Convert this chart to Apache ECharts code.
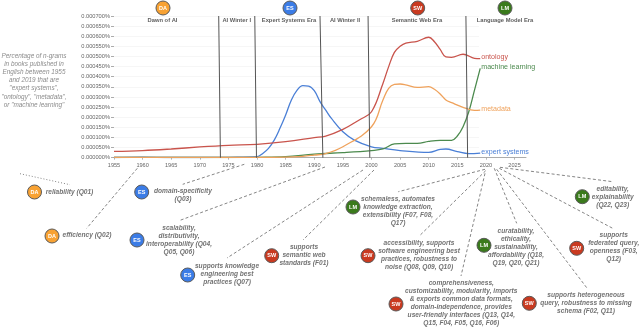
<!DOCTYPE html>
<html><head><meta charset="utf-8">
<script src="https://cdn.jsdelivr.net/npm/echarts@6/dist/echarts.min.js"></script>
<style>html,body{margin:0;padding:0;background:#fff}#c{width:640px;height:327px}</style>
</head><body><div id="c"></div>
<script>
// values in units of 0.000001 %
const ontologyYears=[1955,1960,1965,1970,1975,1980,1985,1990,1992,1995,1998,2000,2002,2003,2004,2005,2006,2008,2010,2011,2012,2013,2014,2016,2018,2019];
const ontologyVals=[31,35,43,53,61,66,79,99,107,140,189,227,367,450,520,550,566,575,595,573,535,498,496,511,491,489];
const mlYears=[1955,1960,1965,1970,1975,1980,1985,1990,1995,2000,2002,2004,2006,2008,2010,2012,2014,2015,2016,2017,2018,2019];
const mlVals=[1,2,1,1,1,2,5,18,25,35,43,68,71,71,81,86,86,107,153,227,334,441];
const metadataYears=[1955,1960,1965,1970,1975,1980,1985,1988,1990,1992,1995,2000,2002,2003,2004,2005,2006,2008,2010,2011,2012,2013,2014,2016,2018,2019];
const metadataVals=[2,2,2,2,2,2,3,7,13,20,54,153,285,343,362,364,360,347,351,338,315,285,272,249,234,235];
const expertYears=[1955,1960,1965,1970,1975,1980,1981,1982,1983,1984,1985,1986,1987,1988,1989,1990,1991,1992,1993,1995,1997,2000,2002,2005,2010,2012,2013,2015,2017,2019];
const expertVals=[1,3,1,1,2,5,21,46,87,145,211,285,334,356,354,331,277,235,194,128,87,54,46,35,26,41,43,30,20,23];
const eraBoundaries=[[1973.3,1973.6],[1979.6,1979.9],[1991.0,1991.5],[1999.4,1999.7],[2016.5,2016.8]];
const eras=['Dawn of AI','AI Winter I','Expert Systems Era','AI Winter II','Semantic Web Era','Language Model Era'];
const eraCx=[162.5,236.7,289,345,417,505];
const noteLines=['Percentage of n-grams','in books published in','English between 1955','and 2019 that are','"expert systems",','"ontology", "metadata",','or "machine learning"'];
const badgeColor={DA:'#f8a233',ES:'#3b7ce6',SW:'#c93a20',LM:'#3a7a1c'};
const topBadges=[['DA',163,8],['ES',290,8],['SW',417.7,8],['LM',505,8]];
const notes=[
 ['DA',34.5,192,69.5,191.7,'reliability (Q01)'],
 ['DA',52,236,87,235.2,'efficiency (Q02)'],
 ['ES',141.7,192,183,191,'domain-specificity\n(Q03)'],
 ['ES',137,240,179,227.7,'scalability,\ndistributivity,\ninteroperability (Q04,\nQ05, Q06)'],
 ['ES',187.7,275,227,265.7,'supports knowledge\nengineering best\npractices (Q07)'],
 ['SW',271.7,255.7,304,247,'supports\nsemantic web\nstandards (F01)'],
 ['LM',353,207,398,198.7,'schemaless, automates\nknowledge extraction,\nextensibility (F07, F08,\nQ17)'],
 ['SW',368,255.7,419,243.3,'accessibility, supports\nsoftware engineering best\npractices, robustness to\nnoise (Q08, Q09, Q10)'],
 ['LM',484,245.3,516,230.7,'curatability,\nethicality,\nsustainability,\naffordability (Q18,\nQ19, Q20, Q21)'],
 ['LM',582.3,196.7,612.7,188.7,'editability,\nexplainability\n(Q22, Q23)'],
 ['SW',576.7,248.3,613.7,235.3,'supports\nfederated query,\nopenness (F03,\nQ12)'],
 ['SW',529.3,303.3,586,295,'supports heterogeneous\nquery, robustness to missing\nschema (F02, Q11)'],
 ['SW',396,304,461.3,283,'comprehensiveness,\ncustomizability, modularity, imports\n& exports common data formats,\ndomain-independence, provides\nuser-friendly interfaces (Q13, Q14,\nQ15, F04, F05, Q16, F06)']
];
const leaders=[
 [20,173.7,70,184.7,1],
 [137.3,168.3,86.7,228.3],
 [244.3,164.3,182.7,184.3],
 [325,167,179,220.7],
 [363,170,227,258],
 [374,170,303,240],
 [485,169.3,398.3,191.7],
 [485.7,170.7,419.3,236],
 [485,173.3,461,276],
 [494.3,168.3,516.7,223.3],
 [496.7,169.3,586.7,287.7],
 [499.3,168.3,614,229],
 [500,167.3,612.7,181.7]
];
const zip=(a,b)=>a.map((x,i)=>[x,b[i]]);
const FF='"Liberation Sans",Arial,sans-serif';
const G=[];
const txt=(x,y,t,font,fill,lh,z)=>G.push({type:'text',z:z||5,x,y,style:{text:t,font,fill,align:'center',verticalAlign:'middle',lineHeight:lh||8}});
G.push({type:'rect',z:1,shape:{x:479,y:10,width:60,height:146.8},style:{fill:'#fff'}});
leaders.forEach(l=>G.push({type:'line',z:4,shape:{x1:l[0],y1:l[1],x2:l[2],y2:l[3]},style:{stroke:'#666',lineWidth:0.8,lineDash:l[4]?[1,2]:[3,2.2]}}));
const badge=(k,x,y)=>{G.push({type:'circle',z:5,shape:{cx:x,cy:y,r:7},style:{fill:badgeColor[k],stroke:'#5a5a5a',lineWidth:1}});
 txt(x,y,k,'bold 5.5px '+FF,'#fff',8,6);};
topBadges.forEach(b=>badge(b[0],b[1],b[2]));
eras.forEach((e,i)=>txt(eraCx[i],20.7,e,'bold 5.8px '+FF,'#606060'));
noteLines.forEach((t,i)=>txt(34,56+i*8.15,t,'italic 6.4px '+FF,'#8c8c8c'));
notes.forEach(n=>{badge(n[0],n[1],n[2]);
 n[5].split('\n').forEach((t,i)=>txt(n[3],n[4]+i*8.05,t,'italic bold 6.6px '+FF,'#737373'));});
const line=(name,d,color,z)=>({name,type:'line',data:d,smooth:0.4,showSymbol:false,symbol:'none',z:z,silent:true,
 lineStyle:{color,width:1.3},itemStyle:{color},
 endLabel:{show:true,formatter:'{a}',color,fontSize:7.1,fontFamily:FF,distance:1,offset:[0,-1.5]},
 labelLayout:{hideOverlap:false}});
const chart=echarts.init(document.getElementById('c'),null,{renderer:'canvas'});
const series=[
 line('expert systems',zip(expertYears,expertVals),'#4a7fd6',3),
 line('metadata',zip(metadataYears,metadataVals),'#efa25c',4),
 line('machine learning',zip(mlYears,mlVals),'#4c8a4e',3),
 line('ontology',zip(ontologyYears,ontologyVals),'#c9544c',4)];
series.push({type:'line',data:[],silent:true,z:6,markLine:{silent:true,symbol:'none',label:{show:false},animation:false,
 lineStyle:{color:'#555',width:1,type:'solid'},
 data:eraBoundaries.map(b=>[{coord:[b[0],700]},{coord:[b[1],0]}])}});
chart.setOption({animation:false,backgroundColor:'#fff',
 grid:{left:114,top:16,width:412,height:141.7,containLabel:false},
 xAxis:{type:'value',min:1955,max:2027,interval:5,
  axisLine:{show:true,onZero:false,lineStyle:{color:'#999',width:0.8}},
  axisTick:{show:true,length:2,lineStyle:{color:'#999',width:0.7}},
  axisLabel:{color:'#666',fontSize:5.6,fontFamily:FF,margin:4.5,formatter:v=>String(v),showMaxLabel:false},
  splitLine:{show:false}},
 yAxis:{type:'value',min:0,max:700,interval:50,
  axisLine:{show:false},axisTick:{show:true,length:3,lineStyle:{color:'#888',width:0.7}},
  axisLabel:{color:'#666',fontSize:5.7,fontFamily:FF,margin:4,formatter:v=>(v/1e6).toFixed(6)+'%'},
  splitLine:{show:true,lineStyle:{color:'#f4f4f4',width:0.8}}},
 series,graphic:{elements:G}});
</script></body></html>
